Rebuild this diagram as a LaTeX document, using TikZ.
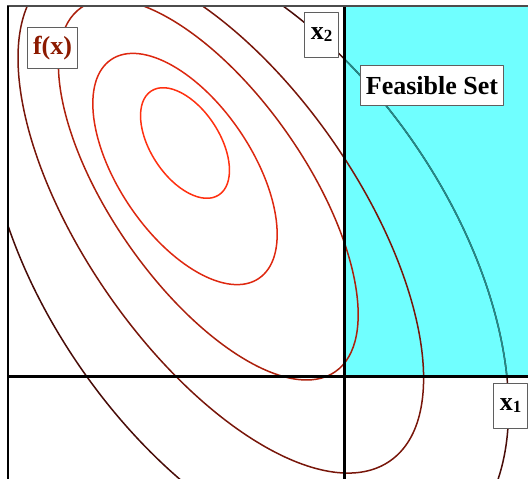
\documentclass[tikz,border=0pt]{standalone}
\usepackage{fontspec}
\setmainfont{Liberation Serif}
\begin{document}
\begin{tikzpicture}[x=1pt,y=-1pt,line join=round,line cap=round]
\definecolor{cyanfill}{RGB}{112,255,255}
\definecolor{cA}{RGB}{255,48,16}
\definecolor{cB}{RGB}{222,40,16}
\definecolor{cC}{RGB}{172,32,12}
\definecolor{cD}{RGB}{120,22,10}
\definecolor{cE}{RGB}{72,12,8}
\definecolor{tealline}{RGB}{30,140,140}
\definecolor{boxline}{RGB}{95,95,95}
\definecolor{fxcol}{RGB}{140,26,0}
\tikzset{
  contour/.style={line width=1.5pt},
  axisline/.style={line width=3pt,black,line cap=butt},
  lbl/.style={draw=boxline,fill=white,line width=1pt,inner sep=0pt,anchor=north west,
    font=\fontsize{26}{26}\selectfont\bfseries}
}
\useasboundingbox (0,0) rectangle (528,479);
% feasible set
\fill[cyanfill] (344,6) rectangle (528,376);
\begin{scope}
\clip (8,6) rectangle (528,479);
% level sets of f
\draw[contour,cA,rotate around={-57:(185,143)}] (185,143) ellipse [x radius=62,y radius=34.5];
\draw[contour,cB,rotate around={-56:(185,169)}] (185,169) ellipse [x radius=132,y radius=66.6];
\draw[contour,cC,rotate around={-55.1:(208.3,189.6)}] (208.3,189.6) ellipse [x radius=222,y radius=97];
\draw[contour,cD,rotate around={-55.1:(220.8,218.1)}] (220.8,218.1) ellipse [x radius=296,y radius=136];
\draw[contour,cE,rotate around={-55.1:(247,255)}] (247,255) ellipse [x radius=355,y radius=201];
\end{scope}
\begin{scope}
\clip (344,6) rectangle (528,376);
\draw[contour,tealline,rotate around={-55.1:(247,255)}] (247,255) ellipse [x radius=355,y radius=201];
\end{scope}
% axes
\draw[axisline] (8,376) -- (528,376);
\draw[axisline] (344,6) -- (344,479);
% frame
\draw[line width=2pt,gray!60!black,line cap=butt] (7,6) -- (528,6);
\draw[line width=2pt,black,line cap=butt] (8,6) -- (8,479);
% labels
\node[lbl,text=fxcol,minimum width=50,minimum height=41] (fx) at (27,27) {f(x)};
\node[lbl,minimum width=34,minimum height=45] (x2) at (304,12) {x{\fontsize{17}{17}\selectfont\raisebox{-2pt}{2}}};
\node[lbl,minimum width=143,minimum height=40] (fs) at (360,65) {Feasible Set};
\node[lbl,minimum width=34,minimum height=45] (x1) at (493,383) {x{\fontsize{17}{17}\selectfont\raisebox{-2pt}{1}}};
\end{tikzpicture}
\end{document}
